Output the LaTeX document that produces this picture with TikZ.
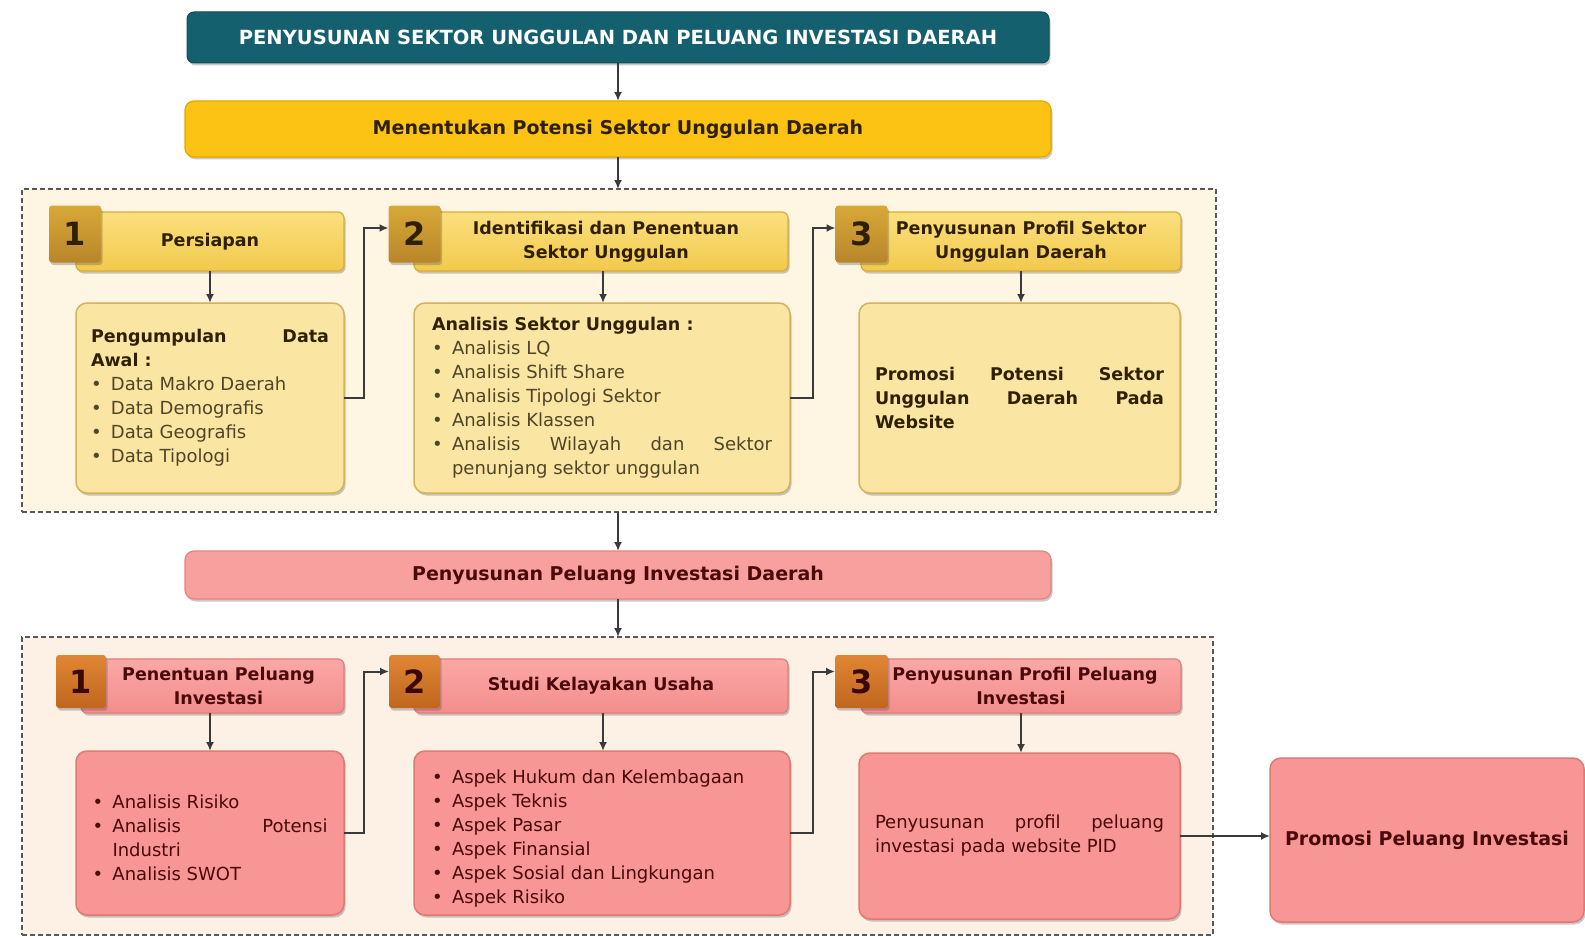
\documentclass[tikz,border=0pt]{standalone}
\usepackage{fontspec}
\setmainfont{DejaVu Sans}
\usetikzlibrary{shadows,arrows.meta,calc}
\definecolor{teal1}{HTML}{14606E}
\definecolor{gold1}{HTML}{FCC214}
\definecolor{goldbd}{HTML}{E3A700}
\definecolor{yheadtop}{HTML}{FBE07E}
\definecolor{yheadbot}{HTML}{F2C94C}
\definecolor{yheadbd}{HTML}{D6AC3E}
\definecolor{ybox}{HTML}{FBE5A2}
\definecolor{yboxbd}{HTML}{D4B25C}
\definecolor{ybadtop}{HTML}{D9A838}
\definecolor{ybadbot}{HTML}{B8862A}
\definecolor{pbar}{HTML}{F8A09D}
\definecolor{pbarbd}{HTML}{E6837F}
\definecolor{pheadtop}{HTML}{FBA8A6}
\definecolor{pheadbot}{HTML}{F28E8C}
\definecolor{pheadbd}{HTML}{DF7E78}
\definecolor{pbox}{HTML}{F89595}
\definecolor{pboxbd}{HTML}{DD7A72}
\definecolor{obadtop}{HTML}{E08633}
\definecolor{obadbot}{HTML}{C0661F}
\definecolor{cont1}{HTML}{FEF6E3}
\definecolor{cont2}{HTML}{FDF1E6}
\definecolor{darkt}{HTML}{2E2000}
\definecolor{ybul}{HTML}{4F4528}
\definecolor{maroon}{HTML}{4A0A0A}
\definecolor{conn}{HTML}{3A3A3A}
\newcommand{\hb}{\fontsize{17.5}{24}\selectfont\bfseries}
\newcommand{\bitem}[1]{\par\noindent\hangindent=20pt\hangafter=1\makebox[20pt][l]{\textbullet}#1}
\begin{document}
\begin{tikzpicture}[x=1pt,y=-1pt,
  every node/.style={inner sep=0pt,outer sep=0pt},
  shd/.style={drop shadow={shadow xshift=1.5pt,shadow yshift=-2.5pt,opacity=0.3,fill=black!70}},
  tealbox/.style={shd,rounded corners=7pt,fill=teal1,draw=teal1!80!black,line width=1pt,text=white,font=\fontsize{19.5}{23}\selectfont\bfseries},
  bigbar/.style={shd,rounded corners=9pt,line width=1.2pt,font=\fontsize{19}{23}\selectfont\bfseries},
  ybarst/.style={bigbar,fill=gold1,draw=goldbd,text=darkt},
  pbarst/.style={bigbar,fill=pbar,draw=pbarbd,text=maroon},
  headbar/.style={shd,rounded corners=6pt,line width=1.2pt,font=\fontsize{17.5}{24}\selectfont\bfseries,align=center},
  yhd/.style={headbar,top color=yheadtop,bottom color=yheadbot,draw=yheadbd,text=darkt},
  phd/.style={headbar,top color=pheadtop,bottom color=pheadbot,draw=pheadbd,text=maroon},
  badge/.style={shd,rounded corners=3pt,minimum width=52pt,minimum height=57pt,font=\fontsize{32}{32}\selectfont\bfseries},
  ybadge/.style={badge,top color=ybadtop,bottom color=ybadbot,text=darkt},
  obadge/.style={badge,top color=obadtop,bottom color=obadbot,text=maroon!80!black},
  cbox/.style={shd,rounded corners=11pt,line width=1.5pt,align=justify,font=\fontsize{18}{24}\selectfont},
  ycbox/.style={cbox,fill=ybox,draw=yboxbd,text=ybul},
  pcbox/.style={cbox,fill=pbox,draw=pboxbd,text=maroon},
  group/.style={draw=black!65,dash pattern=on 5pt off 3pt,line width=1.5pt},
  arr/.style={draw=conn,line width=2pt,-{Latex[length=9pt,width=8pt]}}
]
\useasboundingbox (0,0) rectangle (1585,939);
% top headers
\node[tealbox,minimum width=862pt,minimum height=51pt] (hdr) at (618,37.5) {PENYUSUNAN SEKTOR UNGGULAN DAN PELUANG INVESTASI DAERAH};
\node[ybarst,minimum width=866pt,minimum height=56pt] (ms) at (618,129) {Menentukan Potensi Sektor Unggulan Daerah};
% group 1
\node[group,fill=cont1,minimum width=1194pt,minimum height=323pt] (g1) at (619,350.5) {};
\node[yhd,minimum width=268pt,minimum height=59pt] (h1) at (210,241.5) {Persiapan};
\node[ybadge] (n1) at (75,234) {1};
\node[yhd,minimum width=374pt,minimum height=59pt] (h2) at (601,241.5) {\hspace*{10pt}Identifikasi dan Penentuan\\\hspace*{10pt}Sektor Unggulan};
\node[ybadge] (n2) at (414.5,234) {2};
\node[yhd,minimum width=320pt,minimum height=59pt] (h3) at (1021,241.5) {Penyusunan Profil Sektor\\Unggulan Daerah};
\node[ybadge] (n3) at (861.5,234) {3};
\node[ycbox,text width=238pt,inner xsep=15pt,minimum height=190pt] (c1) at (210,398) {\noindent{\hb\color{darkt}Pengumpulan\hfill Data\\Awal :}
\bitem{Data Makro Daerah}
\bitem{Data Demografis}
\bitem{Data Geografis}
\bitem{Data Tipologi}\par};
\node[ycbox,text width=340pt,inner xsep=18pt,minimum height=190pt] (c2) at (602,398) {\noindent{\hb\color{darkt}Analisis Sektor Unggulan :}
\bitem{Analisis LQ}
\bitem{Analisis Shift Share}
\bitem{Analisis Tipologi Sektor}
\bitem{Analisis Klassen}
\bitem{Analisis\hfill Wilayah\hfill dan\hfill Sektor\\penunjang sektor unggulan}\par};
\node[ycbox,text width=289pt,inner xsep=16pt,minimum height=190pt] (c3) at (1019.5,398) {\noindent{\hb\color{darkt}Promosi\hfill Potensi\hfill Sektor\\Unggulan\hfill Daerah\hfill Pada\\Website}};
% middle bar
\node[pbarst,minimum width=866pt,minimum height=48pt] (pb) at (618,575) {Penyusunan Peluang Investasi Daerah};
% group 2
\node[group,fill=cont2,minimum width=1191pt,minimum height=298pt] (g2) at (617.5,786) {};
\node[phd,minimum width=263pt,minimum height=54pt] (d1) at (212.5,686) {\hspace*{12pt}Penentuan Peluang\\\hspace*{12pt}Investasi};
\node[obadge,minimum width=50pt,minimum height=53pt] (m1) at (81,681.5) {1};
\node[phd,minimum width=374pt,minimum height=54pt] (d2) at (601,686) {Studi Kelayakan Usaha};
\node[obadge,minimum width=51pt,minimum height=53pt] (m2) at (414.5,681.5) {2};
\node[phd,minimum width=320pt,minimum height=54pt] (d3) at (1021,686) {\hspace*{8pt}Penyusunan Profil Peluang\\Investasi};
\node[obadge,minimum width=53pt,minimum height=53pt] (m3) at (861.5,681.5) {3};
\node[pcbox,text width=235pt,inner xsep=16.5pt,minimum height=164pt] (e1) at (210,833) {\bitem{Analisis Risiko}
\bitem{Analisis\hfill Potensi\\Industri}
\bitem{Analisis SWOT}\par};
\node[pcbox,text width=340pt,inner xsep=18pt,minimum height=164pt] (e2) at (602,833) {\bitem{Aspek Hukum dan Kelembagaan}
\bitem{Aspek Teknis}
\bitem{Aspek Pasar}
\bitem{Aspek Finansial}
\bitem{Aspek Sosial dan Lingkungan}
\bitem{Aspek Risiko}\par};
\node[pcbox,text width=289pt,inner xsep=16pt,minimum height=166pt] (e3) at (1019.5,836) {\noindent Penyusunan\hfill profil\hfill peluang\\investasi pada website PID};
\node[pcbox,align=center,font=\fontsize{19}{23}\selectfont\bfseries,minimum width=314pt,minimum height=164pt] (pr) at (1427,840) {Promosi Peluang Investasi};
% connectors
\draw[arr] (hdr) -- (ms);
\draw[arr] (ms.south) -- (ms.south |- g1.north);
\draw[arr] (h1.south) -- (h1.south |- c1.north);
\draw[arr] ([xshift=2pt]h2.south) -- ([xshift=2pt]h2.south |- c2.north);
\draw[arr] (h3.south) -- (h3.south |- c3.north);
\draw[arr] (c1.east) -- ++(20,0) |- ([yshift=6pt]n2.west);
\draw[arr] (c2.east) -- ++(23,0) |- ([yshift=6pt]n3.west);
\draw[arr] (g1.south -| ms.south) -- (pb.north);
\draw[arr] (pb.south) -- (pb.south |- g2.north);
\draw[arr] (d1.south -| h1.south) -- (h1.south |- e1.north);
\draw[arr] ([xshift=2pt]d2.south) -- ([xshift=2pt]d2.south |- e2.north);
\draw[arr] (d3.south) -- (d3.south |- e3.north);
\draw[arr] (e1.east) -- ++(20,0) |- ([yshift=10pt]m2.west);
\draw[arr] (e2.east) -- ++(23,0) |- ([yshift=10pt]m3.west);
\draw[arr] (e3.east) -- (e3.east -| pr.west);
\end{tikzpicture}
\end{document}
